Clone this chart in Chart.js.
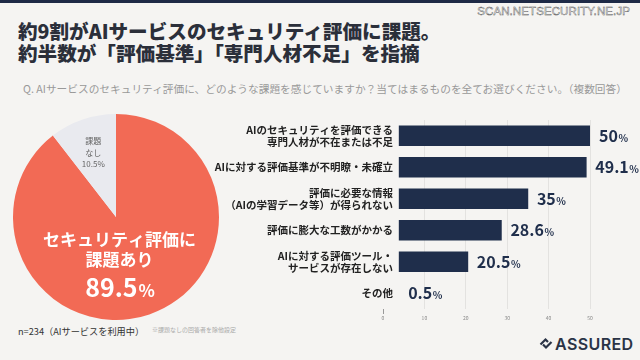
<!DOCTYPE html>
<html lang="ja">
<head>
<meta charset="utf-8">
<script src="https://cdn.jsdelivr.net/npm/chart.js@4/dist/chart.umd.min.js"></script>
<style>
  html, body { margin: 0; padding: 0; }
  body {
    width: 640px; height: 360px; overflow: hidden; position: relative;
    background: #f5f4f2; font-family: "Noto Sans CJK JP", "Noto Sans", sans-serif;
  }
  .topbar { position: absolute; left: 0; top: 0; width: 640px; height: 3px; background: #1e2a46; }
  .site {
    position: absolute; right: 10px; top: 5px; font-family: "Liberation Sans", Arial, sans-serif;
    font-size: 11.5px; color: #fff; -webkit-text-stroke: 0.4px #444; letter-spacing: 0.1px;
  }
  .title {
    position: absolute; left: 18px; top: 20px; font-size: 19.6px; line-height: 22px;
    font-weight: 900; color: #2b2f3a; white-space: nowrap;
  }
  .question {
    position: absolute; left: 23px; top: 81px; font-size: 10.7px; color: #999; white-space: nowrap;
  }
  .foot { position: absolute; left: 18px; top: 324px; font-size: 9.2px; color: #333; white-space: nowrap; }
  .note { position: absolute; left: 152px; top: 325px; font-size: 6px; color: #aaa; white-space: nowrap; }
  .logo {
    position: absolute; left: 539px; top: 334px; display: flex; align-items: center;
    font-family: Inter, "Noto Sans", sans-serif; font-weight: 600; font-size: 16px;
    color: #2a3346; letter-spacing: 0.4px;
  }
  .logo svg { margin-right: 2px; }
  #pieChart { position: absolute; left: 13px; top: 114px; }
  #barChart { position: absolute; left: 200px; top: 110px; }
</style>
</head>
<body>
<div class="topbar"></div>
<div class="site">SCAN.NETSECURITY.NE.JP</div>
<div class="title">約9割がAIサービスのセキュリティ評価に課題。<br>約半数が「評価基準」「専門人材不足」を指摘</div>
<div class="question">Q. AIサービスのセキュリティ評価に、どのような課題を感じていますか？当てはまるものを全てお選びください。（複数回答）</div>

<canvas id="pieChart" width="206" height="206"></canvas>
<canvas id="barChart" width="440" height="215"></canvas>

<div class="foot">n=234（AIサービスを利用中）</div>
<div class="note">※課題なしの回答者を除他設定</div>
<div class="logo">
  <svg width="14" height="14" viewBox="0 0 14 14">
    <polyline points="1.5,7.5 6.5,2.5 9,5" fill="none" stroke="#2a3346" stroke-width="2.2"/>
    <polyline points="4,7.5 7,10.5 12.5,5" fill="none" stroke="#2a3346" stroke-width="2.2"/>
  </svg>
  <span>ASSURED</span>
</div>

<script>
// pie: share of respondents
const pieLabels = ['課題あり', '課題なし'];
const pieValues = [89.5, 10.5];

// bar: issues (multiple answers, %)
const issueLabels = [
  ['AIのセキュリティを評価できる', '専門人材が不在または不足'],
  'AIに対する評価基準が不明瞭・未確立',
  ['評価に必要な情報', '（AIの学習データ等）が得られない'],
  '評価に膨大な工数がかかる',
  ['AIに対する評価ツール・', 'サービスが存在しない'],
  'その他'
];
const issueValues = [50, 49.1, 35, 28.6, 20.5, 0.5];
const axisTicks = [0, 10, 20, 30, 40, 50];

const FONT = '"Noto Sans CJK JP", "Noto Sans", sans-serif';
const NAVY = '#1f2e4b';
const CORAL = '#f26a55';
const BAR_BASE = 3.9;

const pieText = {
  id: 'pieText',
  afterDatasetsDraw(chart) {
    const ctx = chart.ctx;
    const arcs = chart.getDatasetMeta(0).data;
    const cx = arcs[0].x, cy = arcs[0].y, r = arcs[0].outerRadius;
    ctx.save();
    ctx.textAlign = 'center';
    ctx.textBaseline = 'middle';

    // small slice label
    const a = arcs[1];
    const mid = (a.startAngle + a.endAngle) / 2;
    const lx = cx + Math.cos(mid) * r * 0.68;
    const ly = cy + Math.sin(mid) * r * 0.66;
    ctx.fillStyle = '#666';
    ctx.font = '8px ' + FONT;
    ctx.fillText('課題', lx, ly - 12);
    ctx.fillText('なし', lx, ly);
    ctx.fillText(pieValues[1] + '%', lx, ly + 11);

    // main slice label
    ctx.fillStyle = '#fff';
    ctx.font = 'bold 17px ' + FONT;
    ctx.fillText('セキュリティ評価に', cx + 3.5, cy + 23);
    ctx.fillText(pieLabels[0], cx + 3.5, cy + 43);
    ctx.font = 'bold 25px ' + FONT;
    const num = String(pieValues[0]);
    const nw = ctx.measureText(num).width;
    ctx.font = 'bold 17px ' + FONT;
    const pw = ctx.measureText('%').width;
    const sx = cx + 3.5 - (nw + pw) / 2;
    ctx.textAlign = 'left';
    ctx.textBaseline = 'alphabetic';
    ctx.font = 'bold 25px ' + FONT;
    ctx.fillText(num, sx, cy + 80);
    ctx.font = 'bold 17px ' + FONT;
    ctx.fillText('%', sx + nw + 1, cy + 80);
    ctx.restore();
  }
};

new Chart(document.getElementById('pieChart'), {
  type: 'pie',
  data: {
    labels: pieLabels,
    datasets: [{
      data: pieValues,
      backgroundColor: [CORAL, '#e9eaef'],
      borderWidth: 0,
      hoverOffset: 0
    }]
  },
  options: {
    responsive: false,
    animation: false,
    devicePixelRatio: 1,
    layout: { padding: 0 },
    plugins: { legend: { display: false }, tooltip: { enabled: false } }
  },
  plugins: [pieText]
});

// category names (right aligned, overlapping the axis a bit) and value labels
const barText = {
  id: 'barText',
  afterDatasetsDraw(chart) {
    const ctx = chart.ctx;
    const bars = chart.getDatasetMeta(0).data;
    ctx.save();
    ctx.textAlign = 'right';
    ctx.textBaseline = 'middle';
    ctx.fillStyle = '#222';
    ctx.font = 'bold 10.5px ' + FONT;
    issueLabels.forEach((lab, i) => {
      const lines = Array.isArray(lab) ? lab : [lab];
      const yc = bars[i].y;
      const lh = 11.8;
      lines.forEach((t, j) => {
        ctx.fillText(t, chart.chartArea.left + 10, yc + (j - (lines.length - 1) / 2) * lh);
      });
    });

    ctx.fillStyle = NAVY;
    ctx.textBaseline = 'alphabetic';
    ctx.textAlign = 'left';
    bars.forEach((bar, i) => {
      const x = Math.max(bar.x, bar.base) + 9;
      const y = bar.y + 6;
      const num = String(issueValues[i]);
      ctx.font = 'bold 16px ' + FONT;
      ctx.fillText(num, x, y);
      const w = ctx.measureText(num).width;
      ctx.font = 'bold 10px ' + FONT;
      ctx.fillText('%', x + w + 0.5, y);
    });
    ctx.restore();
  }
};

new Chart(document.getElementById('barChart'), {
  type: 'bar',
  data: {
    labels: issueLabels,
    datasets: [{
      data: issueValues,
      base: BAR_BASE,
      barThickness: 20,
      backgroundColor: ctx => (ctx.raw > BAR_BASE ? NAVY : 'rgba(0,0,0,0)')
    }]
  },
  options: {
    indexAxis: 'y',
    responsive: false,
    animation: false,
    devicePixelRatio: 1,
    layout: { padding: { top: 10, right: 50, left: 183, bottom: 0 } },
    plugins: { legend: { display: false }, tooltip: { enabled: false } },
    scales: {
      x: {
        min: axisTicks[0],
        max: axisTicks[axisTicks.length - 1],
        afterBuildTicks: scale => { scale.ticks = axisTicks.map(v => ({ value: v })); },
        afterFit: scale => { scale.height = 16; },
        border: { display: false },
        grid: {
          color: c => (c.tick && c.tick.value === 0 ? 'rgba(0,0,0,0)' : '#e3e2e0'),
          tickColor: c => (c.tick && c.tick.value === 0 ? '#999' : 'rgba(0,0,0,0)'),
          tickLength: 5
        },
        ticks: { padding: 1, color: '#888', font: { size: 5, family: FONT } }
      },
      y: {
        display: false
      }
    }
  },
  plugins: [barText]
});
</script>
</body>
</html>
